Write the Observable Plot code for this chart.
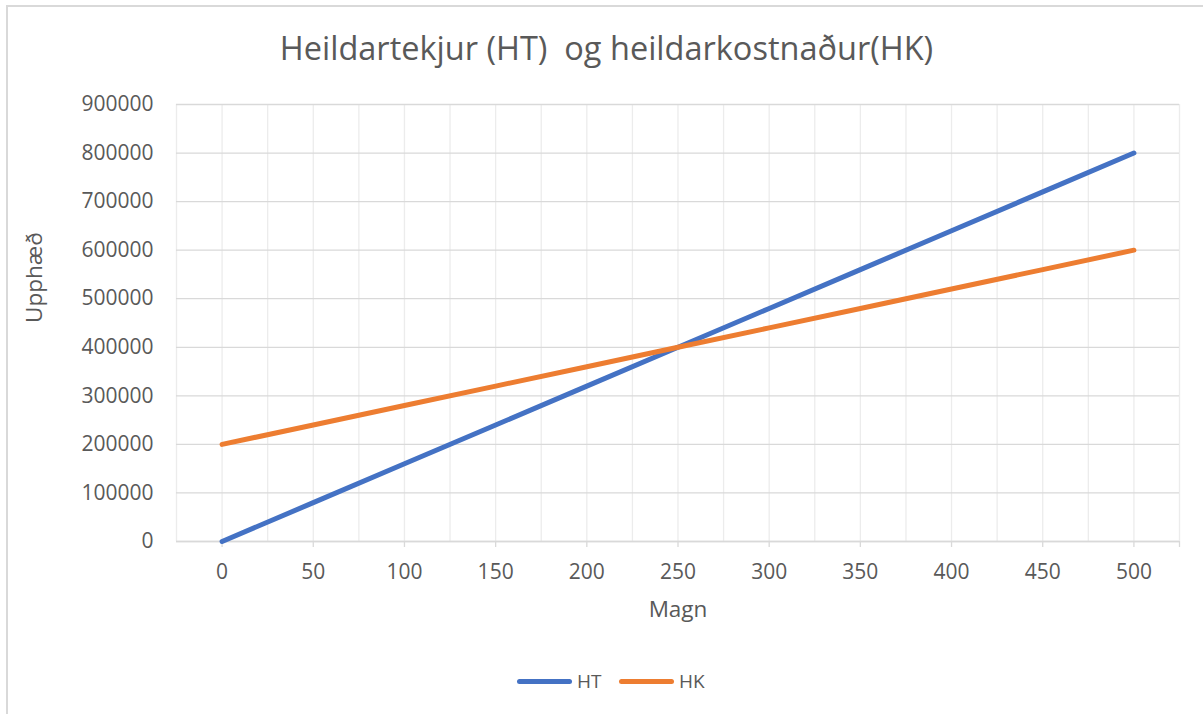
<!DOCTYPE html>
<html>
<head>
<meta charset="utf-8">
<script src="https://cdn.jsdelivr.net/npm/d3@7"></script>
<script src="https://cdn.jsdelivr.net/npm/@observablehq/plot@0.6"></script>
<style>
  html, body { margin: 0; padding: 0; background: #fff; overflow: hidden; }
  #wrap { position: relative; width: 1203px; height: 714px; font-family: "Open Sans", sans-serif; color: #595959; }
  #border { position: absolute; left: 6px; top: 5px; width: 1400px; height: 900px; border: 2px solid #d9d9d9; box-sizing: border-box; pointer-events: none; z-index: 10; }
  #title { position: relative; height: 90px; }
  #title span { position: absolute; left: 10px; right: 0; top: 32px; text-align: center; font-size: 32.5px; line-height: 1; white-space: pre; }
  #chart { position: relative; height: 560px; }
  #legend { position: relative; height: 64px; }
  .item { position: absolute; top: 22px; display: flex; align-items: center; font-size: 19px; line-height: 1; }
  .sw { width: 55px; height: 5px; border-radius: 3px; margin-right: 5px; }
</style>
</head>
<body>
<div id="wrap">
  <div id="border"></div>
  <div id="title"><span>Heildartekjur (HT)  og heildarkostnaður(HK)</span></div>
  <div id="chart"></div>
  <div id="legend"></div>
</div>
<script>
const magn = [0, 50, 100, 150, 200, 250, 300, 350, 400, 450, 500];
const htValues = [0, 80000, 160000, 240000, 320000, 400000, 480000, 560000, 640000, 720000, 800000];
const hkValues = [200000, 240000, 280000, 320000, 360000, 400000, 440000, 480000, 520000, 560000, 600000];
const seriesNames = ["HT", "HK"];
const seriesColors = ["#4472C4", "#ED7D31"];
const yTicks = [0, 100000, 200000, 300000, 400000, 500000, 600000, 700000, 800000, 900000];
const xTicks = [0, 50, 100, 150, 200, 250, 300, 350, 400, 450, 500, 525];
const xGrid = d3.range(-25, 526, 25);
const xLabel = "Magn";
const yLabel = "Upphæð";

const rows = [];
magn.forEach((m, i) => rows.push({series: "HT", x: m, y: htValues[i]}));
magn.forEach((m, i) => rows.push({series: "HK", x: m, y: hkValues[i]}));

const plot = Plot.plot({
  width: 1203,
  height: 560,
  marginLeft: 176,
  marginRight: 24,
  marginTop: 14,
  marginBottom: 109,
  style: {fontFamily: "Open Sans, sans-serif", color: "#595959", background: "white"},
  x: {domain: [-25, 525]},
  y: {domain: [0, 900000]},
  color: {domain: seriesNames, range: seriesColors},
  marks: [
    Plot.ruleX(xGrid, {stroke: "#ececec", strokeWidth: 1.3}),
    Plot.ruleY(yTicks, {stroke: "#d9d9d9", strokeWidth: 1.3}),
    Plot.axisY({ticks: yTicks, tickSize: 0, tickPadding: 23, fontSize: 21, label: null, tickFormat: d => String(d)}),
    Plot.axisX({ticks: xTicks, tickSize: 6, tickPadding: 17, fontSize: 21, label: null, stroke: "#d9d9d9", strokeWidth: 1.3, tickFormat: d => d === 525 ? "" : String(d)}),
    Plot.ruleY([0], {stroke: "#d9d9d9", strokeWidth: 1.5}),
    Plot.line(rows, {x: "x", y: "y", z: "series", stroke: "series", strokeWidth: 5, strokeLinecap: "round", strokeLinejoin: "round"}),
    Plot.text([xLabel], {frameAnchor: "bottom", dy: 75, fontSize: 22.5, fill: "#595959"}),
    Plot.text([yLabel], {frameAnchor: "left", dx: -142, rotate: -90, fontSize: 22.5, fill: "#595959"})
  ]
});
document.getElementById("chart").appendChild(plot);

const legend = document.getElementById("legend");
const legendX = [517, 619];
seriesNames.forEach((name, i) => {
  const item = document.createElement("div");
  item.className = "item";
  item.style.left = legendX[i] + "px";
  item.innerHTML = `<div class="sw" style="background:${seriesColors[i]}"></div><span>${name}</span>`;
  legend.appendChild(item);
});
</script>
</body>
</html>
